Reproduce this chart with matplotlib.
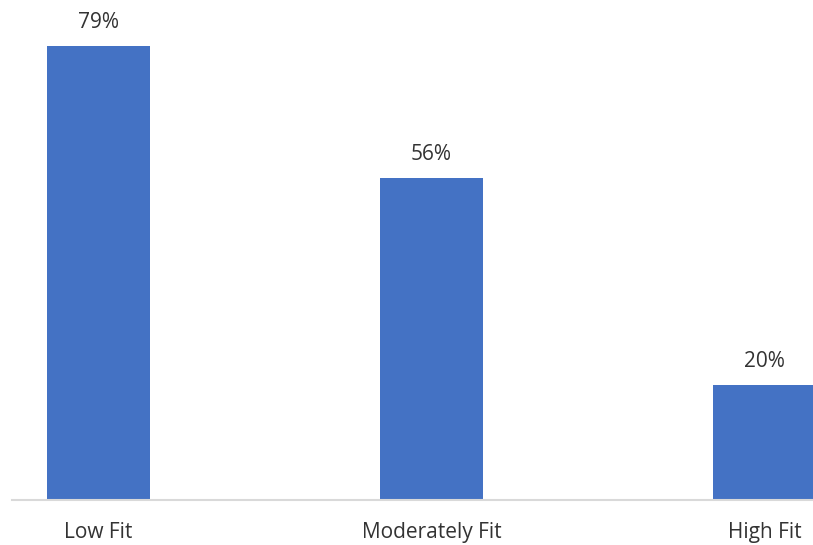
import matplotlib
matplotlib.use("Agg")
import matplotlib.pyplot as plt

categories = ["Low Fit", "Moderately Fit", "High Fit"]
shares = [79, 56, 20]  # percent

plt.rcParams["font.family"] = ["Open Sans", "DejaVu Sans"]

fig = plt.figure(figsize=(8.13, 5.45), dpi=100)
ax = fig.add_axes([12 / 813, 45 / 545, 801 / 813, 500 / 545])

x = range(len(categories))
bars = ax.bar(x, shares, width=0.31, color="#4472C4", zorder=2)

for bar, v in zip(bars, shares):
    ax.annotate(f"{v}%", (bar.get_x() + bar.get_width() / 2, v),
                xytext=(0, 17), textcoords="offset points",
                ha="center", va="center", fontsize=15, color="#333333")

ax.set_xlim(-0.26, 2.146)
ax.set_ylim(0, 500 / 5.75)
ax.set_xticks(list(x))
ax.set_xticklabels(categories, fontsize=15, color="#333333")
ax.tick_params(axis="x", length=0, pad=16)
ax.set_yticks([])

for side in ["top", "right", "left"]:
    ax.spines[side].set_visible(False)
ax.spines["bottom"].set_color("#d9d9d9")
ax.spines["bottom"].set_linewidth(1.5)

fig.savefig("out.png", dpi=100)
